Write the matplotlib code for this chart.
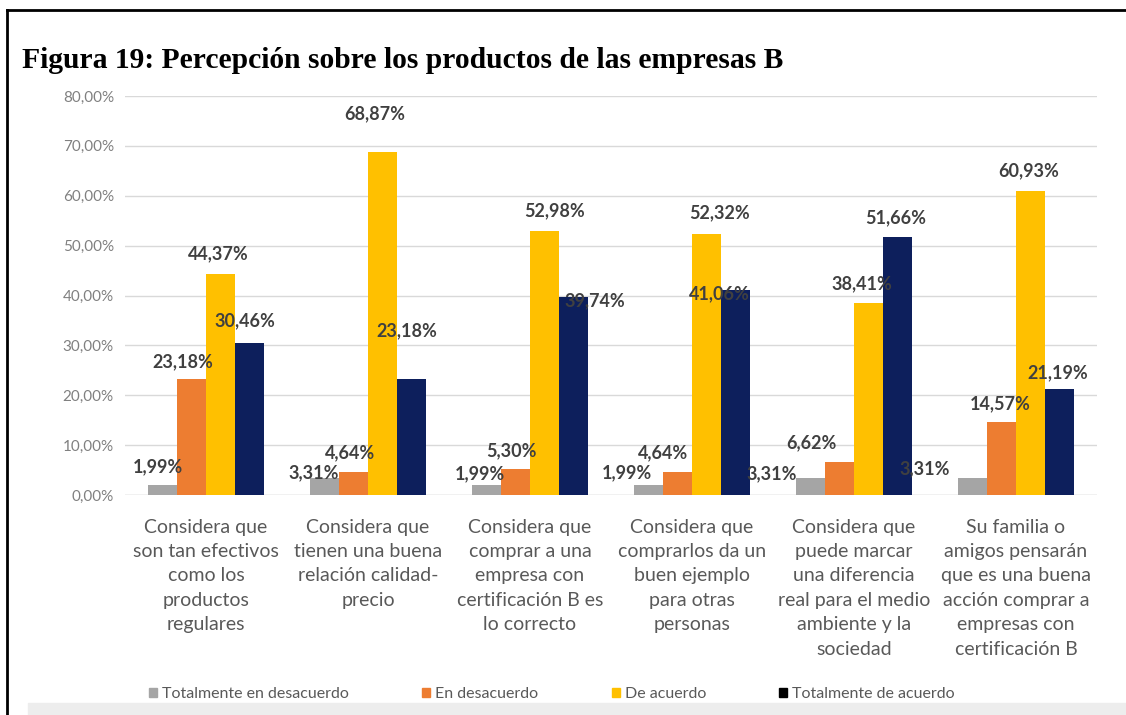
import matplotlib
matplotlib.use("Agg")
import matplotlib.pyplot as plt
from matplotlib.patches import Rectangle
from matplotlib.lines import Line2D
import numpy as np

# survey answers, percent of respondents
categories = [
    "Considera que\nson tan efectivos\ncomo los\nproductos\nregulares",
    "Considera que\ntienen una buena\nrelación calidad-\nprecio",
    "Considera que\ncomprar a una\nempresa con\ncertificación B es\nlo correcto",
    "Considera que\ncomprarlos da un\nbuen ejemplo\npara otras\npersonas",
    "Considera que\npuede marcar\nuna diferencia\nreal para el medio\nambiente y la\nsociedad",
    "Su familia o\namigos pensarán\nque es una buena\nacción comprar a\nempresas con\ncertificación B",
]
series_names = ["Totalmente en desacuerdo", "En desacuerdo", "De acuerdo",
                "Totalmente de acuerdo"]
tot_desacuerdo = [1.99, 3.31, 1.99, 1.99, 3.31, 3.31]
desacuerdo = [23.18, 4.64, 5.30, 4.64, 6.62, 14.57]
de_acuerdo = [44.37, 68.87, 52.98, 52.32, 38.41, 60.93]
tot_acuerdo = [30.46, 23.18, 39.74, 41.06, 51.66, 21.19]
yticks = [0, 10, 20, 30, 40, 50, 60, 70, 80]

colors = ["#A5A5A5", "#ED7D31", "#FFC000", "#0D1F5C"]

# label nudges in pixels (dx, dy above bar top)
label_offsets = [
    [(-4, 18), (-11, 6), (-6, 11), (-21, 12), (-39, 5), (-48, 10)],
    [(-9, 18), (-3, 19), (-4, 18), (-14, 19), (-28, 19), (-1, 19)],
    [(-2, 20), (-8, 38), (10, 20), (13, 21), (-7, 20), (-2, 20)],
    [(-5, 22), (-5, 49), (21, -4), (-16, -4), (-2, 20), (-2, 17)],
]

sans = ["Lato", "DejaVu Sans"]
plt.rcParams["font.family"] = sans

fig = plt.figure(figsize=(11.26, 7.15), dpi=100)
ax = fig.add_axes([125 / 1126, 220 / 715, 972 / 1126, 399 / 715])

x = np.arange(len(categories))
w = 0.18
data = [tot_desacuerdo, desacuerdo, de_acuerdo, tot_acuerdo]
for i, (vals, col) in enumerate(zip(data, colors)):
    pos = x + (i - 1.5) * w
    ax.bar(pos, vals, width=w, color=col, zorder=3)
    for j, v in enumerate(vals):
        dx, dy = label_offsets[i][j]
        ax.annotate(f"{v:.2f}%".replace(".", ","), (pos[j], v),
                    xytext=(dx, dy), textcoords="offset pixels",
                    ha="center", va="center", fontsize=13,
                    fontweight="bold", color="#404040", zorder=4)

ax.set_xlim(-0.5, len(categories) - 0.5)
ax.set_ylim(0, 80)
ax.set_yticks(yticks)
ax.set_yticklabels([f"{t:.2f}%".replace(".", ",") for t in yticks],
                   color="#808080", fontsize=11)
ax.set_xticks(x)
ax.set_xticklabels(categories, color="#595959", fontsize=14,
                   linespacing=1.53, va="top")
ax.tick_params(axis="both", length=0)
ax.tick_params(axis="x", pad=17)
ax.tick_params(axis="y", pad=8)
ax.grid(axis="y", color="#D9D9D9", linewidth=1, zorder=0)
for s in ax.spines.values():
    s.set_visible(False)
ax.axhline(0, color="#D9D9D9", linewidth=1, zorder=1)

handles = [Rectangle((0, 0), 1, 1, color=c) for c in colors[:3]]
handles.append(Rectangle((0, 0), 1, 1, color="black"))
leg = fig.legend(handles, series_names, loc="center",
                 bbox_to_anchor=(552 / 1126, 1 - 694 / 715), ncol=4,
                 frameon=False, fontsize=11.5, handlelength=0.5,
                 handleheight=0.5, handletextpad=0.3, columnspacing=4.6,
                 labelcolor="#595959")

fig.text(22 / 1126, 1 - 60 / 715,
         "Figura 19: Percepción sobre los productos de las empresas B",
         family="Liberation Serif", fontweight="bold", fontsize=21.3,
         va="center", ha="left", color="black")

# page frame and the greyed page strip along the bottom
fig.add_artist(Line2D([7 / 1126, 7 / 1126], [0, 1 - 10 / 715],
                      color="black", linewidth=2, transform=fig.transFigure))
fig.add_artist(Line2D([7 / 1126, 1], [1 - 10 / 715, 1 - 10 / 715],
                      color="black", linewidth=2, transform=fig.transFigure))
fig.add_artist(Rectangle((28 / 1126, 0), 1, 12 / 715, color="#EDEDED",
                         transform=fig.transFigure, zorder=10))

fig.savefig("out.png", dpi=100, facecolor="white")
